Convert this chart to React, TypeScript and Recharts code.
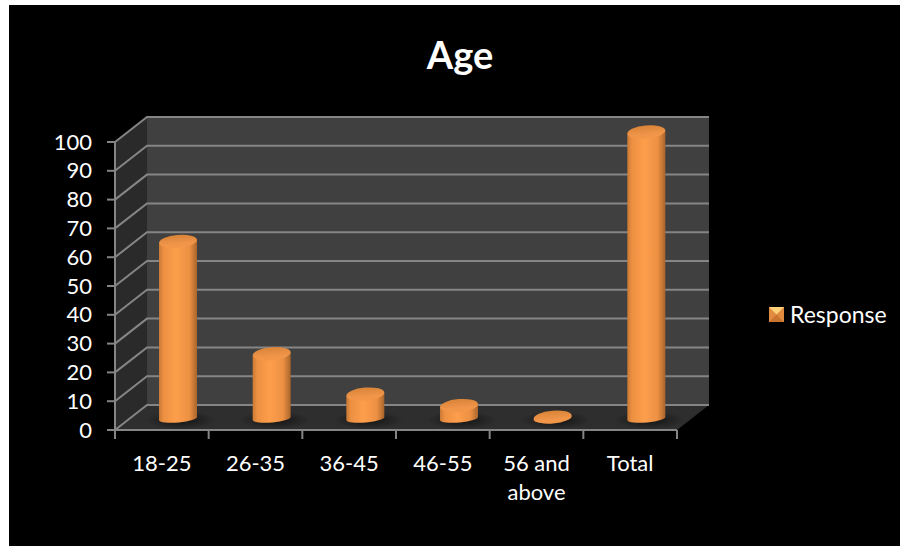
import React from "react";
import {
  BarChart,
  Bar,
  XAxis,
  YAxis,
  CartesianGrid,
  Legend,
} from "recharts";

const categories = ["18-25", "26-35", "36-45", "46-55", "56 and above", "Total"];
const responses = [62, 23, 9, 5, 1, 100];
const yTicks = [0, 10, 20, 30, 40, 50, 60, 70, 80, 90, 100];
const seriesName = "Response";

const rows = categories.map((age, i) => ({ age, Response: responses[i] }));

const FONT = "Lato, 'Open Sans', sans-serif";
const DEPTH_X = 32;
const DEPTH_Y = 25;
const LINE = "#858585";

const pts = (p: number[][]) => p.map((q) => q.join(",")).join(" ");

// Back wall, side wall and floor of the 3D box behind the columns.
function box3D(x: number, y: number, width: number, height: number) {
  const b = y + height;
  const r = x + width;
  return (
    <g>
      <polygon
        points={pts([[x + DEPTH_X, y - DEPTH_Y], [r + DEPTH_X, y - DEPTH_Y], [r + DEPTH_X, b - DEPTH_Y], [x + DEPTH_X, b - DEPTH_Y]])}
        fill="#404040"
      />
      <polygon
        points={pts([[x, y], [x + DEPTH_X, y - DEPTH_Y], [x + DEPTH_X, b - DEPTH_Y], [x, b]])}
        fill="#2a2a2a"
      />
      <polygon
        points={pts([[x, b], [r, b], [r + DEPTH_X, b - DEPTH_Y], [x + DEPTH_X, b - DEPTH_Y]])}
        fill="#2e2e2e"
      />
    </g>
  );
}

// Each grid line runs along the side wall and then across the back wall.
// The box is painted with the first line so that all lines sit on top of it.
function gridLine(props: any) {
  const { x1, x2, y1, index, x, y, width, height } = props;
  return (
    <g key={`grid-${index}`}>
      {index === 0 && box3D(x, y, width, height)}
      <polyline
        points={`${x1},${y1} ${x1 + DEPTH_X},${y1 - DEPTH_Y} ${x2 + DEPTH_X},${y1 - DEPTH_Y}`}
        fill="none"
        stroke={LINE}
        strokeWidth={2}
      />
    </g>
  );
}

// Column drawn as a cylinder standing in the middle of the box depth.
function Cylinder(props: any) {
  const { x, y, width, height } = props;
  const left = x + DEPTH_X / 2;
  const right = left + width;
  const cx = left + width / 2;
  const baseY = y + height - 11.5;
  const topY = y - 10;
  const rx = width / 2;
  const ry = 6.5;
  const tilt = 1.8;
  return (
    <g>
      <ellipse cx={cx + 3} cy={baseY + 1.5} rx={rx + 16} ry={9} fill="url(#floorShadow)" />
      <path
        d={`M${left},${topY + tilt} L${left},${baseY + tilt}
            A${rx},4 -5 0 0 ${right},${baseY - tilt}
            L${right},${topY - tilt} Z`}
        fill="url(#cylinderSide)"
      />
      <ellipse
        cx={cx}
        cy={topY}
        rx={rx}
        ry={ry}
        transform={`rotate(-5 ${cx} ${topY})`}
        fill="url(#cylinderTop)"
      />
    </g>
  );
}

function YTick(props: any) {
  const { x, y, payload } = props;
  return (
    <g>
      <line x1={x + 0} x2={x + 8} y1={y} y2={y} stroke={LINE} strokeWidth={2} />
      <text x={x - 15} y={y + 7.5} textAnchor="end" fill="#fff" fontSize={22} fontFamily={FONT}>
        {payload.value}
      </text>
    </g>
  );
}

const LABEL_LINES: Record<string, string[]> = { "56 and above": ["56 and", "above"] };

function XTick(props: any) {
  const { x, y, payload, index, visibleTicksCount } = props;
  const half = payload.offset ?? 46.8;
  const lines = LABEL_LINES[payload.value] ?? [payload.value];
  const top = y - 8;
  return (
    <g>
      <line x1={x - half} x2={x - half} y1={top} y2={top + 9} stroke={LINE} strokeWidth={2} />
      {index === visibleTicksCount - 1 && (
        <line x1={x + half} x2={x + half} y1={top} y2={top + 9} stroke={LINE} strokeWidth={2} />
      )}
      <text textAnchor="middle" fill="#fff" fontSize={22} fontFamily={FONT}>
        {lines.map((t, i) => (
          <tspan key={t} x={x} y={top + 41 + i * 29}>
            {t}
          </tspan>
        ))}
      </text>
    </g>
  );
}

function LegendBody() {
  return (
    <div style={{ display: "flex", alignItems: "center", fontFamily: FONT, fontSize: 23, color: "#fff" }}>
      <svg width={15} height={15} style={{ marginRight: 6 }}>
        <rect width={15} height={15} fill="#e08b40" />
        <polygon points="0,0 15,0 7.5,7.5" fill="#ffd27a" />
        <polygon points="0,15 15,15 7.5,7.5" fill="#c9752f" />
      </svg>
      {seriesName}
    </div>
  );
}

export default function App() {
  return (
    <div style={{ position: "absolute", left: 0, top: 0, width: 900, height: 546, background: "#fff", overflow: "hidden" }}>
      <div style={{ position: "absolute", left: 9, top: 5, width: 891, height: 541, background: "#000" }} />
      <BarChart
        width={900}
        height={546}
        data={rows}
        barSize={38}
        margin={{ top: 142, right: 93, bottom: 36, left: 75 }}
        style={{ position: "absolute", left: 0, top: 0 }}
      >
        <defs>
          <linearGradient id="cylinderSide" x1="0" x2="1" y1="0" y2="0">
            <stop offset="0" stopColor="#c97a35" />
            <stop offset="0.12" stopColor="#ec9042" />
            <stop offset="0.45" stopColor="#fd9e4b" />
            <stop offset="0.8" stopColor="#ec9043" />
            <stop offset="1" stopColor="#a9652b" />
          </linearGradient>
          <linearGradient id="cylinderTop" x1="0" x2="0" y1="0" y2="1">
            <stop offset="0" stopColor="#d98438" />
            <stop offset="0.7" stopColor="#f0954a" />
            <stop offset="1" stopColor="#f39846" />
          </linearGradient>
          <radialGradient id="floorShadow">
            <stop offset="0.3" stopColor="#181818" stopOpacity={0.85} />
            <stop offset="1" stopColor="#181818" stopOpacity={0} />
          </radialGradient>
        </defs>
        <CartesianGrid vertical={false} horizontal={gridLine} />
        <XAxis
          dataKey="age"
          height={80}
          interval={0}
          tick={XTick}
          tickLine={false}
          axisLine={{ stroke: LINE, strokeWidth: 2 }}
        />
        <YAxis
          width={40}
          domain={[0, 100]}
          ticks={yTicks}
          tick={YTick}
          tickLine={false}
          axisLine={{ stroke: LINE, strokeWidth: 2 }}
        />
        <Bar dataKey="Response" name={seriesName} shape={Cylinder} isAnimationActive={false} />
        <Legend
          layout="vertical"
          align="right"
          verticalAlign="middle"
          width={130}
          content={LegendBody}
          wrapperStyle={{ left: 769, right: "auto", top: 300 }}
        />
        <text x={460} y={69} textAnchor="middle" fill="#fff" fontSize={38} fontWeight={700} fontFamily={FONT}>
          Age
        </text>
      </BarChart>
    </div>
  );
}
